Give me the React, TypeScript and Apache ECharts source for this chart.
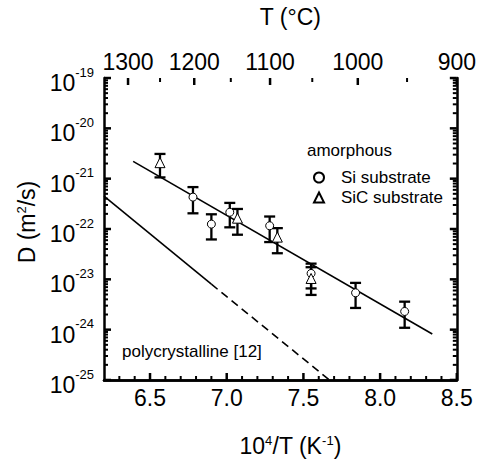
import React, { useEffect, useRef } from "react";
import * as echarts from "echarts";

const FONT = "Liberation Sans";

// x range (10^4/T) and y range (D, m^2/s)
const X_MIN = 6.2;
const X_MAX = 8.5;
const Y_MIN = 1e-25;
const Y_MAX = 1e-19;

const X_MAJOR = [6.5, 7.0, 7.5, 8.0, 8.5];
const X_MINOR = [6.3, 6.4, 6.6, 6.7, 6.8, 6.9, 7.1, 7.2, 7.3, 7.4, 7.6, 7.7, 7.8, 7.9, 8.1, 8.2, 8.3, 8.4];
const T_MAJOR = [1300, 1200, 1100, 1000, 900];
const T_MINOR = [1250, 1150, 1050, 950];
const Y_DECADES = [1e-25, 1e-24, 1e-23, 1e-22, 1e-21, 1e-20, 1e-19];
const Y_MINOR_MULT = [2, 3, 4, 5, 6, 7, 8, 9];

// amorphous, Si substrate (circles)
const siX = [6.78, 6.9, 7.02, 7.28, 7.55, 7.84, 8.16];
const siD = [4.3e-22, 1.25e-22, 2.15e-22, 1.16e-22, 1.31e-23, 5.4e-24, 2.3e-24];
const siHigh = [6.8e-22, 1.96e-22, 3.3e-22, 1.77e-22, 2.05e-23, 8.5e-24, 3.6e-24];
const siLow = [2.05e-22, 6.2e-23, 1.08e-22, 5.5e-23, 6.6e-24, 2.7e-24, 1.09e-24];

// amorphous, SiC substrate (triangles)
const sicX = [6.565, 7.07, 7.33, 7.55];
const sicD = [2.08e-21, 1.64e-22, 6.9e-23, 1.04e-23];
const sicHigh = [3.1e-21, 2.5e-22, 1.04e-22, 1.74e-23];
const sicLow = [1.06e-21, 7.7e-23, 3.3e-23, 4.9e-24];

// Arrhenius fit for amorphous films
const fitX = [6.39, 8.34];
const fitD = [2.2e-21, 8.2e-25];

// polycrystalline [12]: measured range (solid) and extrapolation (dashed)
const polyX = [6.2, 6.9];
const polyD = [4.5e-22, 8.0e-24];
const polyExtX = [6.9, 7.67];
const polyExtD = [8.0e-24, 1e-25];

const invT = (t: number) => 1e4 / (t + 273.15);
const yMinor: number[] = [];
for (let i = 0; i < Y_DECADES.length - 1; i++) {
  for (const m of Y_MINOR_MULT) yMinor.push(m * Y_DECADES[i]);
}

const MAJOR_LEN = 7;
const MINOR_LEN = 4;

// values nudged just inside the axis extents (avoid boundary filtering)
const clampX = (v: number) => Math.min(Math.max(v, X_MIN + 1e-6), X_MAX - 1e-6);
const clampY = (v: number) => Math.min(Math.max(v, Y_MIN * 1.001), Y_MAX / 1.001);
const Y_BOTTOM = clampY(Y_MIN);
const Y_TOP = clampY(Y_MAX);
const X_LEFT = clampX(X_MIN);
const X_RIGHT = clampX(X_MAX);
const Y_MID = 1e-22;
const X_MID = 7.3;

const zip = (a: number[], b: number[]) => a.map((v, i) => [v, b[i]]);
const zip3 = (a: number[], b: number[], c: number[]) => a.map((v, i) => [v, b[i], c[i]]);

const axisLine = { show: true, lineStyle: { color: "#000", width: 2.5 } };
const richLabel = {
  b: { fontSize: 23, fontFamily: FONT, color: "#000", padding: [10, 0, 0, 0] },
  s: { fontSize: 13, fontFamily: FONT, color: "#000", verticalAlign: "top", padding: [4, 0, 0, 0] },
};
const richName = {
  b: { fontSize: 23, fontFamily: FONT, color: "#000" },
  s: { fontSize: 13, fontFamily: FONT, color: "#000", verticalAlign: "top" },
};

function errorBars(data: number[][]) {
  return {
    type: "custom",
    data,
    encode: { x: 0, y: [1, 2] },
    z: 3,
    silent: true,
    renderItem: (_p: any, api: any) => {
      const x = api.value(0);
      const lo = api.coord([x, api.value(1)]);
      const hi = api.coord([x, api.value(2)]);
      const w = 5.5;
      const st = { stroke: "#000", lineWidth: 2.3 };
      return {
        type: "group",
        children: [
          { type: "line", shape: { x1: lo[0], y1: lo[1], x2: hi[0], y2: hi[1] }, style: st },
          { type: "line", shape: { x1: lo[0] - w, y1: lo[1], x2: lo[0] + w, y2: lo[1] }, style: st },
          { type: "line", shape: { x1: hi[0] - w, y1: hi[1], x2: hi[0] + w, y2: hi[1] }, style: st },
        ],
      };
    },
  };
}

// inward tick marks on the frame, through the axes' own scales
function xTickSeries(vals: number[], len: number) {
  return {
    type: "custom",
    data: vals.map((v) => [clampX(v), Y_MID, Y_MID]),
    encode: { x: 0, y: [1, 2] },
    z: 6,
    silent: true,
    renderItem: (_p: any, api: any) => {
      const x = api.value(0);
      const b = api.coord([x, Y_BOTTOM]);
      const st = { stroke: "#000", lineWidth: len >= MAJOR_LEN ? 2.5 : 2 };
      return { type: "line", shape: { x1: b[0], y1: b[1], x2: b[0], y2: b[1] - len }, style: st };
    },
  };
}
function tTickSeries(vals: number[], len: number) {
  return {
    type: "custom",
    data: vals.map((v) => [clampX(v), Y_MID, Y_MID]),
    encode: { x: 0, y: [1, 2] },
    z: 6,
    silent: true,
    renderItem: (_p: any, api: any) => {
      const x = api.value(0);
      const t = api.coord([x, Y_TOP]);
      const st = { stroke: "#000", lineWidth: len >= MAJOR_LEN ? 2.5 : 2 };
      return { type: "line", shape: { x1: t[0], y1: t[1], x2: t[0], y2: t[1] + len }, style: st };
    },
  };
}
function yTickSeries(vals: number[], len: number) {
  return {
    type: "custom",
    data: vals.map((v) => [X_MID, clampY(v), clampY(v)]),
    encode: { x: 0, y: [1, 2] },
    z: 6,
    silent: true,
    renderItem: (_p: any, api: any) => {
      const y = api.value(1);
      const l = api.coord([X_LEFT, y]);
      const r = api.coord([X_RIGHT, y]);
      const st = { stroke: "#000", lineWidth: len >= MAJOR_LEN ? 2.5 : 2 };
      return {
        type: "group",
        children: [
          { type: "line", shape: { x1: l[0], y1: l[1], x2: l[0] + len, y2: l[1] }, style: st },
          { type: "line", shape: { x1: r[0], y1: r[1], x2: r[0] - len, y2: r[1] }, style: st },
        ],
      };
    },
  };
}

export default function App() {
  const ref = useRef<HTMLDivElement>(null);
  useEffect(() => {
    if (!ref.current) return;
    const chart = echarts.init(ref.current, null, { renderer: "svg" });
    const xBase = { type: "value", min: X_MIN, max: X_MAX, splitLine: { show: false }, axisTick: { show: false } };
    const yBase = { type: "log", logBase: 10, min: Y_MIN, max: Y_MAX, splitLine: { show: false }, axisTick: { show: false } };
    const tTicks = T_MAJOR.map((t) => Math.min(invT(t), X_MAX));
    chart.setOption({
      animation: false,
      textStyle: { fontFamily: FONT },
      grid: { left: 104, right: 22, top: 77, bottom: 77 },
      legend: {
        orient: "vertical",
        left: 308,
        top: 164,
        itemWidth: 10,
        itemHeight: 10,
        itemGap: 3,
        data: ["Si substrate", "SiC substrate"],
        textStyle: { fontSize: 17, fontFamily: FONT, color: "#000", padding: [0, 0, 0, 12] },
        selectedMode: false,
      },
      graphic: [
        { type: "text", left: 307, top: 142, style: { text: "amorphous", fontSize: 17, fontFamily: FONT, fill: "#000" } },
        { type: "text", left: 122, top: 343, style: { text: "polycrystalline [12]", fontSize: 17, fontFamily: FONT, fill: "#000" } },
      ],
      xAxis: [
        {
          ...xBase,
          position: "bottom",
          axisLine,
          axisLabel: { customValues: X_MAJOR, formatter: (v: number) => v.toFixed(1), fontSize: 23, color: "#000", margin: 6 },
          name: "{b|10}{s|4}{b|/T (K}{s|-1}{b|)}",
          nameLocation: "middle",
          nameGap: 54,
          nameTextStyle: { rich: richName, padding: [0, 0, 0, 20] },
        },
        {
          ...xBase,
          position: "top",
          axisLine,
          axisLabel: {
            customValues: tTicks,
            formatter: (v: number) => String(Math.round((1e4 / v - 273.15) / 50) * 50),
            fontSize: 23,
            color: "#000",
            margin: 5,
          },
          name: "T (°C)",
          nameLocation: "middle",
          nameGap: 50,
          nameTextStyle: { fontSize: 23, color: "#000", padding: [0, 0, 0, 20] },
        },
      ],
      yAxis: [
        {
          ...yBase,
          position: "left",
          axisLine,
          axisLabel: {
            customValues: Y_DECADES,
            formatter: (v: number) => `{b|10}{s|${Math.round(Math.log10(v))}}`,
            rich: richLabel,
            margin: 10,
          },
          name: "{b|D (m}{s|2}{b|/s)}",
          nameLocation: "middle",
          nameRotate: 90,
          nameGap: 66,
          nameTextStyle: { rich: richName, padding: [0, 0, 0, 14] },
        },
        {
          ...yBase,
          position: "right",
          axisLine,
          axisLabel: { show: false },
        },
      ],
      series: [
        {
          name: "fit",
          type: "line",
          data: zip(fitX, fitD),
          symbol: "none",
          lineStyle: { color: "#000", width: 1.6 },
          z: 2,
        },
        {
          name: "poly",
          type: "line",
          data: zip(polyX, polyD),
          symbol: "none",
          lineStyle: { color: "#000", width: 1.6 },
          z: 2,
        },
        {
          name: "polyExt",
          type: "line",
          data: zip(polyExtX, polyExtD),
          symbol: "none",
          lineStyle: { color: "#000", width: 1.6, type: [8, 5] },
          z: 2,
        },
        errorBars(zip3(siX, siLow, siHigh)),
        errorBars(zip3(sicX, sicLow, sicHigh)),
        {
          name: "Si substrate",
          type: "scatter",
          data: zip(siX, siD),
          symbol: "circle",
          symbolSize: 8,
          itemStyle: { color: "#fff", borderColor: "#000", borderWidth: 1, opacity: 1 },
          z: 5,
        },
        {
          name: "SiC substrate",
          type: "scatter",
          data: zip(sicX, sicD),
          symbol: "triangle",
          symbolSize: 10,
          itemStyle: { color: "#fff", borderColor: "#000", borderWidth: 1, opacity: 1 },
          z: 5,
        },
        xTickSeries(X_MAJOR, MAJOR_LEN),
        xTickSeries(X_MINOR, MINOR_LEN),
        tTickSeries(tTicks, MAJOR_LEN),
        tTickSeries(T_MINOR.map(invT), MINOR_LEN),
        yTickSeries(Y_DECADES, MAJOR_LEN),
        yTickSeries(yMinor, MINOR_LEN),
      ],
    });
    return () => chart.dispose();
  }, []);
  return <div ref={ref} style={{ width: 479, height: 462, position: "absolute", left: 0, top: 0 }} />;
}
